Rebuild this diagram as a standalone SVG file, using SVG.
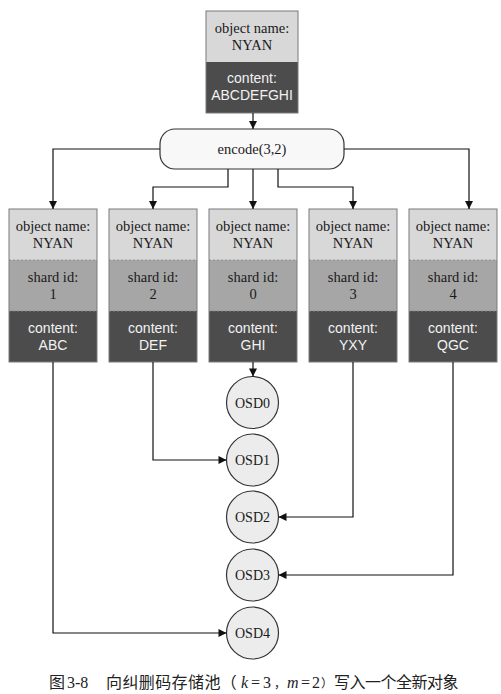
<svg xmlns="http://www.w3.org/2000/svg" width="501" height="694" viewBox="0 0 501 694">
<defs>
<marker id="arr" viewBox="0 0 10 10" refX="10" refY="5" markerUnits="userSpaceOnUse" markerWidth="9" markerHeight="8" orient="auto">
<path d="M0,0 L10,5 L0,10 z" fill="#111"/>
</marker>
</defs>
<style>
.bg{fill:#ffffff}
.lt{fill:#d8d8d8}
.md{fill:#a6a6a6}
.dk{fill:#4c4c4c}
.frame{fill:none;stroke:#7a7a7a;stroke-width:1}
.sep{stroke:#8a8a8a;stroke-width:0.8;stroke-dasharray:2,2}
.tt{font-family:"Liberation Serif","Times New Roman",serif;font-size:14.5px;fill:#1a1a1a;text-anchor:middle}
.tw{font-family:"Liberation Sans",Arial,sans-serif;font-size:14px;fill:#f2f2f2;text-anchor:middle}
.enc{fill:#f8f8f8;stroke:#333;stroke-width:1.2}
.osd{fill:#ececec;stroke:#333;stroke-width:1.2}
.osdt{font-family:"Liberation Serif","Times New Roman",serif;font-size:14px;fill:#1a1a1a;text-anchor:middle}
.con{fill:none;stroke:#111;stroke-width:1.2;marker-end:url(#arr)}
.cap{font-family:"Noto Sans CJK SC","Noto Sans CJK JP",sans-serif;font-size:16px;fill:#222}
.lat{font-family:"Liberation Serif","Times New Roman",serif}
</style>
<rect class="bg" x="0" y="0" width="501" height="694"/>

<g id="object">
<rect class="lt" x="206" y="11" width="92" height="51"/>
<rect class="dk" x="206" y="62" width="92" height="51"/>
<rect class="frame" x="206" y="11" width="92" height="102"/>
<text class="tt" x="252" y="33">object name:</text>
<text class="tt" x="252" y="50">NYAN</text>
<text class="tw" x="252" y="83">content:</text>
<text class="tw" x="252" y="100">ABCDEFGHI</text>
</g>

<g id="encode">
<rect class="enc" x="160" y="129" width="184" height="40" rx="15" ry="15"/>
<text class="tt" x="252" y="154">encode(3,2)</text>
</g>

<g id="shard1">
<rect class="lt" x="9" y="209" width="88" height="51"/>
<rect class="md" x="9" y="260" width="88" height="51"/>
<rect class="dk" x="9" y="311" width="88" height="51"/>
<line class="sep" x1="9" y1="260" x2="97" y2="260"/>
<line class="sep" x1="9" y1="311" x2="97" y2="311"/>
<rect class="frame" x="9" y="209" width="88" height="153"/>
<text class="tt" x="53" y="231">object name:</text>
<text class="tt" x="53" y="248">NYAN</text>
<text class="tt" x="53" y="282">shard id:</text>
<text class="tt" x="53" y="299">1</text>
<text class="tw" x="53" y="333">content:</text>
<text class="tw" x="53" y="350">ABC</text>
</g>

<g id="shard2">
<rect class="lt" x="109" y="209" width="88" height="51"/>
<rect class="md" x="109" y="260" width="88" height="51"/>
<rect class="dk" x="109" y="311" width="88" height="51"/>
<line class="sep" x1="109" y1="260" x2="197" y2="260"/>
<line class="sep" x1="109" y1="311" x2="197" y2="311"/>
<rect class="frame" x="109" y="209" width="88" height="153"/>
<text class="tt" x="153" y="231">object name:</text>
<text class="tt" x="153" y="248">NYAN</text>
<text class="tt" x="153" y="282">shard id:</text>
<text class="tt" x="153" y="299">2</text>
<text class="tw" x="153" y="333">content:</text>
<text class="tw" x="153" y="350">DEF</text>
</g>

<g id="shard0">
<rect class="lt" x="209" y="209" width="88" height="51"/>
<rect class="md" x="209" y="260" width="88" height="51"/>
<rect class="dk" x="209" y="311" width="88" height="51"/>
<line class="sep" x1="209" y1="260" x2="297" y2="260"/>
<line class="sep" x1="209" y1="311" x2="297" y2="311"/>
<rect class="frame" x="209" y="209" width="88" height="153"/>
<text class="tt" x="253" y="231">object name:</text>
<text class="tt" x="253" y="248">NYAN</text>
<text class="tt" x="253" y="282">shard id:</text>
<text class="tt" x="253" y="299">0</text>
<text class="tw" x="253" y="333">content:</text>
<text class="tw" x="253" y="350">GHI</text>
</g>

<g id="shard3">
<rect class="lt" x="309" y="209" width="88" height="51"/>
<rect class="md" x="309" y="260" width="88" height="51"/>
<rect class="dk" x="309" y="311" width="88" height="51"/>
<line class="sep" x1="309" y1="260" x2="397" y2="260"/>
<line class="sep" x1="309" y1="311" x2="397" y2="311"/>
<rect class="frame" x="309" y="209" width="88" height="153"/>
<text class="tt" x="353" y="231">object name:</text>
<text class="tt" x="353" y="248">NYAN</text>
<text class="tt" x="353" y="282">shard id:</text>
<text class="tt" x="353" y="299">3</text>
<text class="tw" x="353" y="333">content:</text>
<text class="tw" x="353" y="350">YXY</text>
</g>

<g id="shard4">
<rect class="lt" x="409" y="209" width="88" height="51"/>
<rect class="md" x="409" y="260" width="88" height="51"/>
<rect class="dk" x="409" y="311" width="88" height="51"/>
<line class="sep" x1="409" y1="260" x2="497" y2="260"/>
<line class="sep" x1="409" y1="311" x2="497" y2="311"/>
<rect class="frame" x="409" y="209" width="88" height="153"/>
<text class="tt" x="453" y="231">object name:</text>
<text class="tt" x="453" y="248">NYAN</text>
<text class="tt" x="453" y="282">shard id:</text>
<text class="tt" x="453" y="299">4</text>
<text class="tw" x="453" y="333">content:</text>
<text class="tw" x="453" y="350">QGC</text>
</g>

<g id="osd0"><circle class="osd" cx="252.5" cy="402.5" r="26"/><text class="osdt" x="252.5" y="407.5">OSD0</text></g>
<g id="osd1"><circle class="osd" cx="252.5" cy="460" r="26"/><text class="osdt" x="252.5" y="465">OSD1</text></g>
<g id="osd2"><circle class="osd" cx="252.5" cy="517" r="26"/><text class="osdt" x="252.5" y="522">OSD2</text></g>
<g id="osd3"><circle class="osd" cx="252.5" cy="575" r="26"/><text class="osdt" x="252.5" y="580">OSD3</text></g>
<g id="osd4"><circle class="osd" cx="252.5" cy="633" r="26"/><text class="osdt" x="252.5" y="638">OSD4</text></g>

<g id="connectors">
<path class="con" d="M253,113 V129"/>
<path class="con" d="M160,149 H53 V209"/>
<path class="con" d="M344,149 H469 V209"/>
<path class="con" d="M228,169 V187 H153 V209"/>
<path class="con" d="M253,169 V209"/>
<path class="con" d="M278,169 V187 H353 V209"/>
<path class="con" d="M53,362 V633 H226.5"/>
<path class="con" d="M153,362 V460 H226.5"/>
<path class="con" d="M253,362 V376.5"/>
<path class="con" d="M353,362 V517 H278.5"/>
<path class="con" d="M453,362 V575 H278.5"/>
</g>

<g id="caption">
<text class="cap" y="688"><tspan x="49">图</tspan><tspan class="lat" x="67">3-8</tspan><tspan x="106" letter-spacing="0.4">向纠删码存储池（</tspan><tspan class="lat" x="241" font-style="italic">k</tspan><tspan class="lat" x="251">=</tspan><tspan class="lat" x="263">3</tspan><tspan x="274" font-size="12">，</tspan><tspan class="lat" x="287" font-style="italic">m</tspan><tspan class="lat" x="301">=</tspan><tspan class="lat" x="312">2</tspan><tspan x="321" font-size="12">）</tspan><tspan x="334" letter-spacing="-0.5">写入一个全新对象</tspan></text>
</g>
</svg>
